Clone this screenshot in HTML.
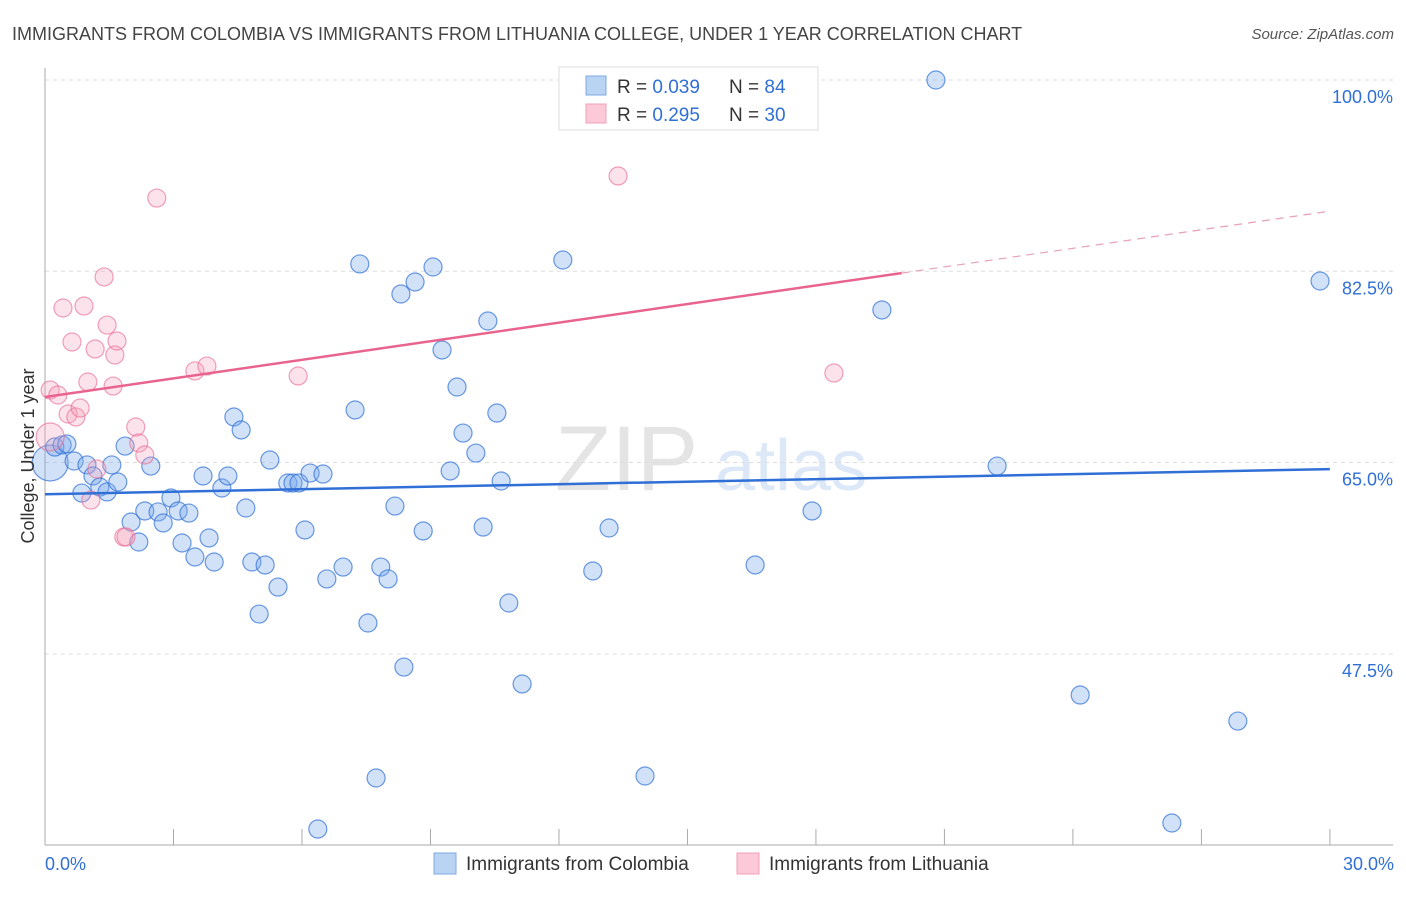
<!DOCTYPE html>
<html><head><meta charset="utf-8">
<style>
body{margin:0;background:#fff;font-family:"Liberation Sans",sans-serif;}
svg text{font-family:"Liberation Sans",sans-serif;}
</style></head>
<body>
<svg id="chart" width="1406" height="892" xmlns="http://www.w3.org/2000/svg">
<text x="12" y="40" font-size="18" fill="#444">IMMIGRANTS FROM COLOMBIA VS IMMIGRANTS FROM LITHUANIA COLLEGE, UNDER 1 YEAR CORRELATION CHART</text>
<text x="1394" y="39" font-size="15" fill="#555" font-style="italic" text-anchor="end">Source: ZipAtlas.com</text>
<text x="555" y="490" font-size="92" fill="#e4e4e4" font-family="Liberation Serif">ZIP</text>
<text x="715" y="490" font-size="72" fill="#dce8f7">atlas</text>
<g id="grid"></g>
<g id="axes"></g>
<g id="marks"></g>
<text transform="translate(34,456) rotate(-90)" font-size="18" fill="#333" text-anchor="middle">College, Under 1 year</text>
<g>
<rect x="559" y="67" width="259" height="63" fill="#fff" stroke="#ddd"/>
<rect x="586" y="76" width="20" height="19" fill="#b9d3f3" stroke="#7fa8e0"/>
<rect x="586" y="104" width="20" height="19" fill="#fbc9d7" stroke="#f0a0b8"/>
<text x="617" y="93" font-size="19" fill="#333">R = <tspan fill="#2f6fd6">0.039</tspan></text>
<text x="729" y="93" font-size="19" fill="#333">N = <tspan fill="#2f6fd6">84</tspan></text>
<text x="617" y="121" font-size="19" fill="#333">R = <tspan fill="#2f6fd6"> 0.295</tspan></text>
<text x="729" y="121" font-size="19" fill="#333">N = <tspan fill="#2f6fd6">30</tspan></text>
</g>
<g>
<rect x="434" y="853" width="22" height="21" fill="#b9d3f3" stroke="#7fa8e0"/>
<text x="466" y="870" font-size="19" fill="#333">Immigrants from Colombia</text>
<rect x="737" y="853" width="22" height="21" fill="#fbc9d7" stroke="#f0a0b8"/>
<text x="769" y="870" font-size="19" fill="#333">Immigrants from Lithuania</text>
</g>
</svg>
<script>
const yTicks=[100,82.5,65,47.5];
const yTickLabels=["100.0%","82.5%","65.0%","47.5%"];
const xTicks=[0,3,6,9,12,15,18,21,24,27,30];
const xEndLabels=["0.0%","30.0%"];
const blueX=[0.12,0.23,0.40,0.51,0.68,0.86,0.98,1.12,1.28,1.45,1.56,1.70,1.87,2.01,2.19,2.33,2.47,2.64,2.76,2.94,3.11,3.20,3.36,3.50,3.69,3.83,3.95,4.13,4.27,4.41,4.58,4.69,4.83,5.00,5.14,5.25,5.44,5.67,5.79,5.93,6.07,6.19,6.37,6.49,6.58,6.96,7.24,7.35,7.54,7.73,7.84,8.01,8.17,8.31,8.38,8.64,8.83,9.06,9.27,9.46,9.62,9.76,10.06,10.23,10.34,10.55,10.65,10.83,11.14,12.09,12.79,13.17,14.01,14.43,15.29,16.58,17.91,19.54,20.80,22.23,24.17,26.31,27.85,29.77];
const blueY=[64.96,66.42,66.61,66.70,65.14,62.21,64.78,63.77,62.76,62.31,64.78,63.22,66.51,59.56,57.73,60.57,64.68,60.48,59.47,61.76,60.57,57.64,60.38,56.36,63.77,58.10,55.90,62.67,63.77,69.17,67.98,60.84,55.90,51.14,55.63,65.23,53.61,63.13,63.13,63.13,58.83,64.04,31.47,63.95,54.35,55.44,69.81,83.17,50.32,36.14,55.44,54.35,61.02,80.42,46.29,81.52,58.74,82.89,75.30,64.23,71.91,67.70,65.87,59.10,77.95,69.53,63.31,52.15,44.74,83.53,55.08,59.01,36.32,100,99.82,55.63,60.57,78.96,100,64.68,43.73,32.02,41.35,81.61];
const pinkX=[0.12,0.12,0.30,0.42,0.54,0.63,0.72,0.82,0.91,1.00,1.17,1.21,1.07,1.38,1.45,1.59,1.63,1.68,1.84,1.89,2.12,2.19,2.33,2.61,3.50,3.78,5.91,13.38,18.42];
const pinkY=[71.64,67.34,71.18,79.14,69.44,76.03,69.17,69.99,79.32,72.37,75.39,64.41,61.57,81.98,77.58,72.00,74.84,76.12,58.19,58.19,68.25,66.79,65.69,89.20,73.38,73.83,72.92,91.22,73.19];
const blueTrend=[62.1,64.4];
const pinkTrend=[71.0,88.0];
const pinkSolidEnd=20.0;

const X=v=>45+v*42.83;
const Y=v=>80+(100-v)*10.93;
const NS="http://www.w3.org/2000/svg";
function mk(tag,attrs,parent){const e=document.createElementNS(NS,tag);for(const k in attrs)e.setAttribute(k,attrs[k]);parent.appendChild(e);return e;}
const grid=document.getElementById('grid'),axes=document.getElementById('axes'),marks=document.getElementById('marks');
yTicks.forEach((t,i)=>{
  const l=mk('line',{x1:45,x2:1393,y1:Y(t),y2:Y(t),stroke:'#ddd','stroke-dasharray':'4,4'},grid);
  
  
  const tx=mk('text',{x:1393,y:Y(t)+23,'font-size':18,fill:'#2f6fd6','text-anchor':'end'},grid);
  tx.textContent=yTickLabels[i];
  
  
});
let a=mk('line',{x1:45,x2:45,y1:68,y2:845,stroke:'#aaa'},axes);


a=mk('line',{x1:45,x2:1393,y1:845,y2:845,stroke:'#aaa'},axes);


xTicks.forEach(t=>{
  const l=mk('line',{x1:X(t),x2:X(t),y1:829,y2:845,stroke:'#aaa'},axes);
  
  
});
let t0=mk('text',{x:45,y:870,'font-size':18,fill:'#2f6fd6'},axes);t0.textContent=xEndLabels[0];


let t1=mk('text',{x:1394,y:870,'font-size':18,fill:'#2f6fd6','text-anchor':'end'},axes);t1.textContent=xEndLabels[1];



blueX.forEach((v,i)=>{
  const big=i===0;
  const c=mk('circle',{cx:X(v),cy:Y(blueY[i]),r:big?18:9,fill:'rgba(120,170,235,0.35)',stroke:'rgba(47,111,214,0.7)','stroke-width':1.2},marks);
  
  
});
pinkX.forEach((v,i)=>{
  const big=i===1;
  const c=mk('circle',{cx:X(v),cy:Y(pinkY[i]),r:big?14:9,fill:'rgba(245,160,185,0.3)',stroke:'rgba(232,110,150,0.65)','stroke-width':1.2},marks);
  
  
});
const pAt=x=>pinkTrend[0]+(pinkTrend[1]-pinkTrend[0])*x/30;
let l=mk('line',{x1:X(0),y1:Y(blueTrend[0]),x2:X(30),y2:Y(blueTrend[1]),stroke:'#2f6fd6','stroke-width':2.5},marks);


l=mk('line',{x1:X(0),y1:Y(pAt(0)),x2:X(pinkSolidEnd),y2:Y(pAt(pinkSolidEnd)),stroke:'#e8648e','stroke-width':2.5},marks);


l=mk('line',{x1:X(pinkSolidEnd),y1:Y(pAt(pinkSolidEnd)),x2:X(30),y2:Y(pAt(30)),stroke:'#e8a0b6','stroke-width':1.2,'stroke-dasharray':'8,6'},marks);


</script>
</body></html>
